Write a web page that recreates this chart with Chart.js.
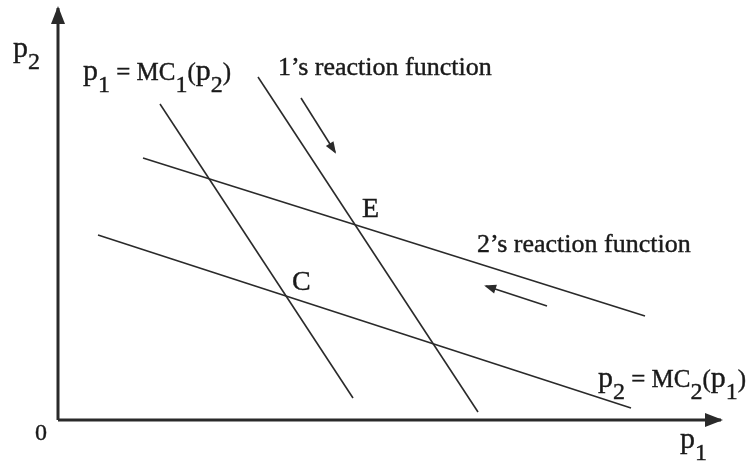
<!DOCTYPE html>
<html>
<head>
<meta charset="utf-8">
<script src="https://cdn.jsdelivr.net/npm/chart.js@4/dist/chart.umd.min.js"></script>
<style>
  html, body { margin: 0; padding: 0; background: #fff; }
  #wrap { position: relative; width: 752px; height: 461px; }
</style>
</head>
<body>
<div id="wrap"><canvas id="c"></canvas></div>
<script>
// coordinates are measured from the origin of the diagram (p1 = 0, p2 = 0)
const axisP1 = [{ x: 0, y: 0 }, { x: 663, y: 0 }];
const axisP2 = [{ x: 0, y: 0 }, { x: 0, y: 412 }];
const mc1Line = [{ x: 102, y: 316 }, { x: 295, y: 22 }];
const reaction1 = [{ x: 200, y: 343 }, { x: 420, y: 8 }];
const reaction2 = [{ x: 85, y: 262 }, { x: 587, y: 104 }];
const mc2Line = [{ x: 40, y: 185 }, { x: 573, y: 12 }];
const shiftArrow1 = [{ x: 243, y: 322 }, { x: 277, y: 268 }];
const shiftArrow2 = [{ x: 489, y: 114 }, { x: 428, y: 134 }];

// text labels: pieces of text with a style key
const labelParts = [
  [["p", "P"], ["2", "S"]],
  [["p", "P"], ["1", "S"], [" = ", "N"], ["MC", "N"], ["1", "S"], ["(", "N"], ["p", "P"], ["2", "S"], [")", "N"]],
  [["1\u2019s reaction function", "R"]],
  [["E", "L"]],
  [["2\u2019s reaction function", "R"]],
  [["C", "L"]],
  [["p", "P"], ["2", "S"], [" = ", "N"], ["MC", "N"], ["2", "S"], ["(", "N"], ["p", "P"], ["1", "S"], [")", "N"]],
  [["p", "P"], ["1", "S"]],
  [["0", "Z"]],
];
const labelAt = [
  { x: -45, y: 363 },
  { x: 25, y: 340 },
  { x: 220, y: 345 },
  { x: 304, y: 203 },
  { x: 419, y: 168 },
  { x: 234, y: 130 },
  { x: 540, y: 33 },
  { x: 622, y: -28 },
  { x: -23, y: -20 },
];

const fontStyles = {
  P: { size: 30, dy: 0 },
  S: { size: 24, dy: 12 },
  N: { size: 25, dy: 0 },
  R: { size: 26, dy: 0 },
  L: { size: 28, dy: 0 },
  Z: { size: 24, dy: 0 },
};

const ink = "#2a2a2a";

function lineSet(data, width, head) {
  return {
    data: data,
    showLine: true,
    borderColor: ink,
    borderWidth: width,
    pointRadius: 0,
    tension: 0,
    arrowHead: head || null,
  };
}

const arrowPlugin = {
  id: "arrowHeads",
  afterDatasetsDraw(chart) {
    const ctx = chart.ctx;
    const xs = chart.scales.x, ys = chart.scales.y;
    chart.data.datasets.forEach((ds) => {
      if (!ds.arrowHead) return;
      const a = ds.data[ds.data.length - 2], b = ds.data[ds.data.length - 1];
      const x0 = xs.getPixelForValue(a.x), y0 = ys.getPixelForValue(a.y);
      const x1 = xs.getPixelForValue(b.x), y1 = ys.getPixelForValue(b.y);
      const ang = Math.atan2(y1 - y0, x1 - x0);
      const len = ds.arrowHead.len, half = ds.arrowHead.half;
      ctx.save();
      ctx.fillStyle = ink;
      ctx.beginPath();
      ctx.moveTo(x1 + Math.cos(ang) * 2, y1 + Math.sin(ang) * 2);
      ctx.lineTo(x1 - Math.cos(ang) * len - Math.sin(ang) * half, y1 - Math.sin(ang) * len + Math.cos(ang) * half);
      ctx.lineTo(x1 - Math.cos(ang) * len + Math.sin(ang) * half, y1 - Math.sin(ang) * len - Math.cos(ang) * half);
      ctx.closePath();
      ctx.fill();
      ctx.restore();
    });
  },
};

const textPlugin = {
  id: "texts",
  afterDraw(chart) {
    const ctx = chart.ctx;
    const xs = chart.scales.x, ys = chart.scales.y;
    ctx.save();
    ctx.fillStyle = "#1a1a1a";
    ctx.strokeStyle = "#1a1a1a";
    ctx.lineWidth = 0.4;
    ctx.textBaseline = "alphabetic";
    labelParts.forEach((parts, i) => {
      let px = xs.getPixelForValue(labelAt[i].x);
      const py = ys.getPixelForValue(labelAt[i].y);
      parts.forEach(([t, k]) => {
        const st = fontStyles[k];
        ctx.font = st.size + 'px "Liberation Serif", "Times New Roman", serif';
        ctx.fillText(t, px, py + st.dy);
        ctx.strokeText(t, px, py + st.dy);
        px += ctx.measureText(t).width;
      });
    });
    ctx.restore();
  },
};

new Chart(document.getElementById("c"), {
  type: "scatter",
  data: {
    datasets: [
      lineSet(axisP1, 3, { len: 16, half: 7 }),
      lineSet(axisP2, 3, { len: 16, half: 7 }),
      lineSet(mc1Line, 1.6),
      lineSet(reaction1, 1.6),
      lineSet(reaction2, 1.6),
      lineSet(mc2Line, 1.6),
      lineSet(shiftArrow1, 1.6, { len: 10, half: 4.5 }),
      lineSet(shiftArrow2, 1.6, { len: 10, half: 4.5 }),
    ],
  },
  options: {
    responsive: true,
    maintainAspectRatio: false,
    animation: false,
    layout: { padding: 0 },
    plugins: { legend: { display: false }, tooltip: { enabled: false } },
    scales: {
      x: { type: "linear", min: -58, max: 694, display: false },
      y: { type: "linear", min: -41, max: 420, display: false },
    },
  },
  plugins: [arrowPlugin, textPlugin],
});
</script>
</body>
</html>
